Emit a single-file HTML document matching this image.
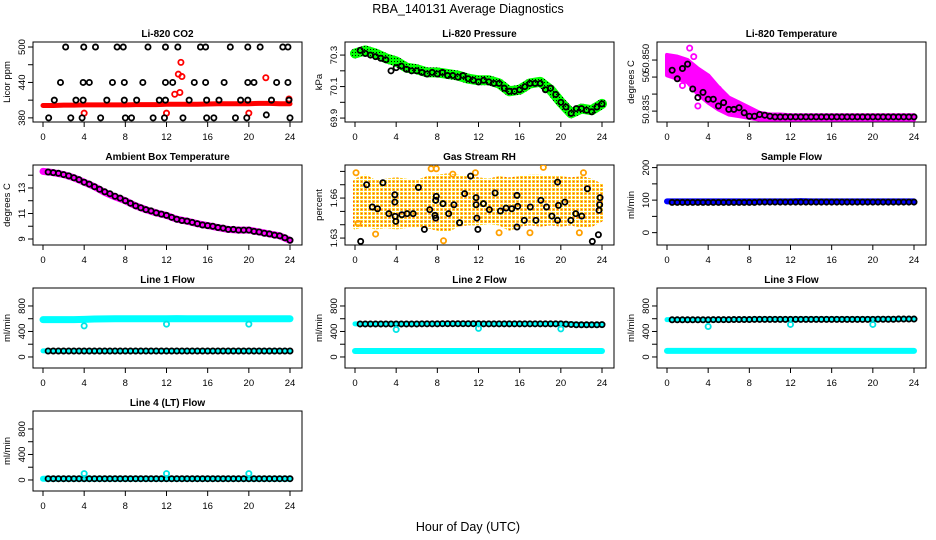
<!DOCTYPE html>
<html><head><meta charset="utf-8"><style>
html,body{margin:0;padding:0;background:#fff;}
svg{display:block;font-family:"Liberation Sans",Arial,sans-serif;}
</style></head><body>
<svg id="chart" width="936" height="540" viewBox="0 0 936 540" xmlns="http://www.w3.org/2000/svg">
<defs>
<pattern id="gpat" width="3" height="3" patternUnits="userSpaceOnUse"><rect width="3" height="3" fill="#00ff00"/><rect x="1" y="1" width="1" height="1" fill="#000"/></pattern>
<pattern id="opat" width="4" height="4" patternUnits="userSpaceOnUse"><rect width="4" height="4" fill="#fff"/><rect x="0" y="0" width="3" height="3" fill="#ffd000"/><rect x="1" y="1" width="1.2" height="1.2" fill="#ff2000"/></pattern>
</defs>
<text x="468" y="13" text-anchor="middle" font-size="12.5">RBA_140131  Average Diagnostics</text>
<text x="468" y="531" text-anchor="middle" font-size="12.5">Hour of Day (UTC)</text>
</svg>
<script>
// ---- data ----
const hourTicks=[0,4,8,12,16,20,24];
// CO2
const co2BlackHours=[2.2,3.96,5.1,7.2,7.8,10.2,11.9,13.1,15.3,15.8,18.2,19.9,21.1,23.3,23.8,1.7,3.9,4.5,6.75,7.9,9.7,11.9,12.6,14.7,15.8,17.6,19.9,20.5,22.7,23.8,1.1,3.2,3.9,6.2,7.9,9.1,11.3,11.9,14.2,15.9,17.1,19.2,19.9,22.2,23.9,0.55,2.7,3.8,5.6,8.0,8.6,10.7,11.8,13.6,15.9,16.6,18.7,19.8,21.7,24.0];
const co2BlackValues=[500,500,500,500,500,500,500,500,500,500,500,500,500,500,500,440,440,440,440,440,440,440,440,440,440,440,440,440,440,440,410,410,410,410,410,410,410,410,410,410,410,410,410,410,410,380,380,380,380,380,380,380,380,380,380,380,380,380,385,380];
const co2RedHourly=[401,401,401.5,401.5,402,402,402,402,402,402.5,402.5,402.5,403,403,403,403,403.5,404,404,404,404,404.5,404.5,404,404];
const co2RedOutHours=[4.0,12.0,20.0,21.65,12.8,13.3,13.15,13.5,13.4,23.9];
const co2RedOutValues=[388,388,388,448,420,423,454,450,474,412];
// Pressure
const presGreenHourly=[70.31,70.33,70.31,70.28,70.26,70.22,70.21,70.19,70.19,70.18,70.17,70.15,70.14,70.14,70.12,70.07,70.08,70.12,70.13,70.08,70.0,69.93,69.96,69.95,69.99];
const presBlack=[70.33,70.31,70.3,70.29,70.28,70.27,70.2,70.22,70.23,70.21,70.2,70.2,70.19,70.18,70.19,70.18,70.19,70.17,70.17,70.16,70.17,70.15,70.14,70.13,70.14,70.13,70.12,70.12,70.09,70.07,70.07,70.08,70.1,70.12,70.12,70.12,70.08,70.09,70.05,70.0,69.97,69.93,69.96,69.96,69.95,69.94,69.97,69.99];
// Li-820 Temperature
const tempUpper=[50.8515,50.851,50.850,50.8475,50.8455,50.842,50.839,50.8375,50.836,50.8345,50.834,50.834,50.8338,50.8338,50.8338,50.8338,50.8338,50.8338,50.8338,50.8338,50.8338,50.8338,50.8338,50.8338,50.8338];
const tempLower=[50.8455,50.8445,50.8435,50.840,50.8375,50.8355,50.834,50.8335,50.833,50.8325,50.8325,50.8325,50.8325,50.8325,50.8325,50.8325,50.8325,50.8325,50.8325,50.8325,50.8325,50.8325,50.8325,50.8325,50.8325];
const tempOutHours=[2.2,1.0,0.5,3.5,4.2,3.0,1.5,5.0,2.6];
const tempOutValues=[50.8535,50.849,50.849,50.8455,50.843,50.8365,50.8425,50.8415,50.851];
const tempBlack=[50.847,50.8445,50.8475,50.8488,50.8415,50.839,50.8405,50.8385,50.8385,50.8365,50.8375,50.8355,50.8355,50.836,50.8345,50.8335,50.8335,50.834,50.8338,50.8335,50.8333,50.8333,50.8333,50.8333,50.8333,50.8333,50.8333,50.8333,50.8333,50.8333,50.8333,50.8333,50.8333,50.8333,50.8333,50.8333,50.8333,50.8333,50.8333,50.8333,50.8333,50.8333,50.8333,50.8333,50.8333,50.8333,50.8333,50.8333];
// Ambient
const ambMagHourly=[14.3,14.2,14.05,13.8,13.45,13.1,12.65,12.3,12.0,11.6,11.3,11.05,10.85,10.55,10.4,10.2,10.05,9.9,9.75,9.7,9.7,9.55,9.4,9.25,8.9];
const ambBlack=[14.25,14.2,14.15,14.05,13.95,13.8,13.65,13.45,13.3,13.1,12.9,12.7,12.55,12.35,12.2,12.0,11.8,11.6,11.45,11.3,11.2,11.05,10.95,10.85,10.7,10.55,10.45,10.4,10.3,10.2,10.1,10.05,10.0,9.9,9.85,9.75,9.75,9.7,9.7,9.7,9.6,9.55,9.45,9.4,9.3,9.25,9.1,8.9];
// Gas RH
const rhUpper=[1.673,1.676,1.672,1.673,1.674,1.673,1.672,1.675,1.676,1.677,1.676,1.675,1.674,1.673,1.675,1.674,1.675,1.676,1.676,1.675,1.675,1.674,1.675,1.673,1.669];
const rhLower=[1.638,1.640,1.638,1.639,1.638,1.639,1.640,1.639,1.637,1.636,1.640,1.641,1.641,1.642,1.641,1.637,1.640,1.641,1.640,1.641,1.640,1.641,1.639,1.640,1.644];
const rhOutHours=[0.1,0.3,7.4,7.9,9.5,11.7,18.3,22.2,2.0,14.0,8.6,17.0,21.8];
const rhOutValues=[1.679,1.641,1.682,1.682,1.678,1.679,1.683,1.679,1.633,1.634,1.628,1.634,1.634];
const rhBlackHours=[0.55,1.13,1.68,2.19,2.71,3.29,3.87,3.87,3.9,3.97,4.55,5.06,5.65,6.16,6.74,7.26,7.77,7.84,7.84,7.9,8.55,9.1,9.61,10.16,10.65,11.23,11.77,11.77,11.84,11.94,12.48,13.06,13.61,14.13,14.68,15.23,15.74,15.81,15.74,16.45,17.03,17.58,18.06,18.61,19.13,19.68,19.77,19.68,20.39,20.97,21.45,22.03,22.58,23.06,23.65,23.71,23.77,23.81];
const rhBlackValues=[1.6275,1.67,1.6533,1.652,1.6715,1.6483,1.6625,1.657,1.6463,1.6425,1.6475,1.6483,1.6483,1.668,1.6365,1.6513,1.647,1.645,1.6583,1.6613,1.6558,1.6483,1.655,1.6415,1.6633,1.6765,1.6603,1.655,1.645,1.6365,1.6558,1.6513,1.6638,1.6503,1.6525,1.652,1.662,1.6538,1.6383,1.6433,1.6533,1.6433,1.6583,1.6533,1.6465,1.672,1.6545,1.6433,1.657,1.6433,1.6483,1.6465,1.667,1.6275,1.6325,1.6508,1.655,1.6603];
// Sample flow
const sampleBlueHourly=[96,96,96,96,96,96,96,96,96,96,96,96,96,97,96,96,96,96,96,96,96,96,96,96,96];
const sampleBlack=[93,93,93,93,93,93,93,93,93,93,93,93,93,93,93,93,93,94,94,94,94,94,94,94,94,94,94,94,94,94,94,94,94,94,94,94,94,94,94,94,94,94,94,94,94,94,94,94];
// Line flows
const line1CyanHigh=[585,585,585,585,590,595,598,600,600,600,600,600,600,602,600,600,600,600,600,600,600,600,600,600,600];
const line1CyanLow=[95,95,95,95,95,95,95,95,95,98,98,98,98,98,98,98,98,98,98,98,98,98,98,98,98];
const line1Black=[94,94,94,94,94,94,94,94,94,94,94,94,94,94,94,94,94,94,94,94,94,94,94,94,94,94,94,94,94,94,94,94,94,94,94,94,94,94,94,94,94,94,94,94,94,94,94,94];
const line1OutHours=[4,12,20]; const line1OutValues=[488,515,515];
const line2CyanHigh=[520,520,520,520,520,520,520,520,520,520,520,520,520,520,520,520,520,520,520,520,520,520,510,505,505];
const line2CyanLow=[94,94,94,94,94,94,94,94,94,94,94,94,94,94,94,94,94,94,94,94,94,94,94,94,94];
const line2Black=[518,518,518,518,518,518,518,518,518,518,518,518,520,520,520,520,522,522,522,522,522,522,522,522,520,520,520,520,520,520,520,520,520,520,520,520,520,520,520,520,515,510,505,505,505,505,505,508];
const line2OutHours=[4,12,20]; const line2OutValues=[430,448,440];
const line3CyanHigh=[585,585,585,585,585,585,588,590,592,595,595,595,595,597,597,597,597,597,597,597,597,597,597,597,597];
const line3CyanLow=[95,95,95,95,95,95,95,95,95,95,95,95,95,95,95,95,95,95,95,95,95,95,95,95,95];
const line3Black=[583,583,583,583,583,583,583,583,585,585,585,585,587,587,587,587,590,590,590,590,590,590,590,590,590,590,590,590,590,590,590,590,590,590,590,590,590,590,590,590,592,592,592,592,595,595,595,595];
const line3OutHours=[4,12,20]; const line3OutValues=[478,510,510];
const line4CyanLow=[20,20,20,20,20,20,20,20,20,20,20,20,20,20,20,20,20,20,20,20,20,20,20,20,20];
const line4Black=[20,20,20,20,20,20,20,20,20,20,20,20,20,20,20,20,20,20,20,20,20,20,20,20,20,20,20,20,20,20,20,20,20,20,20,20,20,20,20,20,20,20,20,20,20,20,20,20];
const line4OutHours=[4,12,20]; const line4OutValues=[100,100,100];

// ---- drawing ----
const NS='http://www.w3.org/2000/svg';
const svg=document.getElementById('chart');
function mk(tag,attrs,parent){const e=document.createElementNS(NS,tag);for(const k in attrs)e.setAttribute(k,attrs[k]);parent.appendChild(e);return e;}
function panel(col,row,title,ylab,ylim,yticks,ylabels,name){
  const L=33+312*col,T=42+123*row,W=269,H=80;
  const g=mk('g',{},svg);
  
  
  const sx=t=>L+10+t*247/24;
  const sy=v=>T+H-(v-ylim[0])/(ylim[1]-ylim[0])*H;
  const tt=mk('text',{x:L+W/2,y:T-5,'text-anchor':'middle','font-size':'10','font-weight':'bold'},g);
  tt.textContent=title;
  
  
  const box=mk('rect',{x:L,y:T,width:W,height:H,fill:'none',stroke:'#000','stroke-width':1},g);
  
  
  const xa=mk('g',{},g);
  
  
  hourTicks.forEach(h=>{
    mk('line',{x1:sx(h),x2:sx(h),y1:T+H,y2:T+H+5,stroke:'#000'},xa);
    const t=mk('text',{x:sx(h),y:T+H+18,'text-anchor':'middle','font-size':'9.5'},xa);
    t.textContent=h;
    
    
  });
  const ya=mk('g',{},g);
  
  
  yticks.forEach(v=>mk('line',{x1:L-5,x2:L,y1:sy(v),y2:sy(v),stroke:'#000'},ya));
  ylabels.forEach(v=>{
    const y=sy(v[0]);
    const t=mk('text',{x:0,y:0,'text-anchor':'middle','font-size':'9.5',transform:`translate(${L-8},${y}) rotate(-90)`},ya);
    t.textContent=v[1];
    
    
  });
  const yt=mk('text',{x:0,y:0,'text-anchor':'middle','font-size':'9.5',transform:`translate(${L-23},${T+H/2}) rotate(-90)`},g);
  yt.textContent=ylab;
  
  
  const clipId='c'+col+row;
  const cp=mk('clipPath',{id:clipId},g);mk('rect',{x:L,y:T,width:W,height:H},cp);
  const plot=mk('g',{'clip-path':`url(#${clipId})`},g);
  
  
  return {sx,sy,g:plot};
}
function circ(p,h,v,color,name,r){
  const c=mk('circle',{cx:p.sx(h),cy:p.sy(v),r:r||2.6,fill:'none',stroke:color,'stroke-width':1.8},p.g);
  
  
}
function hourlyLine(p,vals,color,width,name){
  const pts=vals.map((v,i)=>p.sx(i)+','+p.sy(v)).join(' ');
  const l=mk('polyline',{points:pts,fill:'none',stroke:color,'stroke-width':width,'stroke-linejoin':'round','stroke-linecap':'round'},p.g);
  
  
}
function band(p,up,lo,fill,name,op){
  const a=up.map((v,i)=>p.sx(i)+','+p.sy(v));
  const b=lo.map((v,i)=>p.sx(i)+','+p.sy(v)).reverse();
  const poly=mk('polygon',{points:a.concat(b).join(' '),fill:fill,stroke:fill,'stroke-width':4,'stroke-linejoin':'round',opacity:op||1},p.g);
  
  
}
function halfSeries(p,vals,color,name){vals.forEach((v,i)=>circ(p,(i+1)*0.5,v,color,name));}

let p=panel(0,0,'Li-820 CO2','Licor ppm',[373,508.5],[380,410,440,470,500],[[380,'380'],[440,'440'],[500,'500']],'co2');
hourlyLine(p,co2RedHourly,'#ff0000',5,'co2-red-series');
co2RedOutHours.forEach((h,i)=>circ(p,h,co2RedOutValues[i],'#ff0000','co2-red-outlier'));
co2BlackHours.forEach((h,i)=>circ(p,h,co2BlackValues[i],'#000','co2-black-point'));
p=panel(1,0,'Li-820 Pressure','kPa',[69.875,70.383],[69.9,70.0,70.1,70.2,70.3],[[69.9,'69.9'],[70.1,'70.1'],[70.3,'70.3']],'pressure');
hourlyLine(p,presGreenHourly,'url(#gpat)',10,'pressure-green-series');
halfSeries(p,presBlack,'#000','pressure-black-point');
p=panel(2,0,'Li-820 Temperature','degrees C',[50.8318,50.8553],[50.835,50.84,50.845,50.85],[[50.8355,'50.835'],[50.845,'50'],[50.8505,'50.850']],'li820-temp');
band(p,tempUpper,tempLower,'#ff00ff','temp-magenta-band');
tempOutHours.forEach((h,i)=>circ(p,h,tempOutValues[i],'#ff00ff','temp-magenta-outlier'));
halfSeries(p,tempBlack,'#000','temp-black-point');
p=panel(0,1,'Ambient Box Temperature','degrees C',[8.53,14.8],[9,10,11,12,13,14],[[9,'9'],[11,'11'],[13,'13']],'ambient');
hourlyLine(p,ambMagHourly,'#ff00ff',7,'ambient-magenta-series');
halfSeries(p,ambBlack,'#000','ambient-black-point');
p=panel(1,1,'Gas Stream RH','percent',[1.6248,1.6848],[1.63,1.64,1.65,1.66,1.67,1.68],[[1.63,'1.63'],[1.66,'1.66']],'gas-rh');
band(p,rhUpper,rhLower,'url(#opat)','rh-orange-band',0.85);
rhOutHours.forEach((h,i)=>circ(p,h,rhOutValues[i],'#ffa000','rh-orange-outlier'));
rhBlackHours.forEach((h,i)=>circ(p,h,rhBlackValues[i],'#000','rh-black-point'));
p=panel(2,1,'Sample Flow','ml/min',[-38,208],[0,50,100,150,200],[[0,'0'],[100,'100'],[200,'200']],'sample-flow');
hourlyLine(p,sampleBlueHourly,'#0000ff',6,'sample-blue-series');
halfSeries(p,sampleBlack,'#000','sample-black-point');
const fy=[-173,1082],fticks=[0,200,400,600,800],flabels=[[0,'0'],[400,'400'],[800,'800']];
p=panel(0,2,'Line 1 Flow','ml/min',fy,fticks,flabels,'line1');
hourlyLine(p,line1CyanHigh,'#00ffff',7,'line1-cyan-high');
hourlyLine(p,line1CyanLow,'#00ffff',5,'line1-cyan-low');
halfSeries(p,line1Black,'#000','line1-black-point');
line1OutHours.forEach((h,i)=>circ(p,h,line1OutValues[i],'#00e5e5','line1-cyan-outlier'));
p=panel(1,2,'Line 2 Flow','ml/min',fy,fticks,flabels,'line2');
hourlyLine(p,line2CyanLow,'#00ffff',6,'line2-cyan-low');
hourlyLine(p,line2CyanHigh,'#00ffff',5,'line2-cyan-high');
halfSeries(p,line2Black,'#000','line2-black-point');
line2OutHours.forEach((h,i)=>circ(p,h,line2OutValues[i],'#00e5e5','line2-cyan-outlier'));
p=panel(2,2,'Line 3 Flow','ml/min',fy,fticks,flabels,'line3');
hourlyLine(p,line3CyanLow,'#00ffff',6,'line3-cyan-low');
hourlyLine(p,line3CyanHigh,'#00ffff',5,'line3-cyan-high');
halfSeries(p,line3Black,'#000','line3-black-point');
line3OutHours.forEach((h,i)=>circ(p,h,line3OutValues[i],'#00e5e5','line3-cyan-outlier'));
p=panel(0,3,'Line 4 (LT) Flow','ml/min',fy,fticks,flabels,'line4');
hourlyLine(p,line4CyanLow,'#00ffff',6,'line4-cyan-series');
halfSeries(p,line4Black,'#000','line4-black-point');
line4OutHours.forEach((h,i)=>circ(p,h,line4OutValues[i],'#00e5e5','line4-cyan-outlier'));
</script>
</body></html>
